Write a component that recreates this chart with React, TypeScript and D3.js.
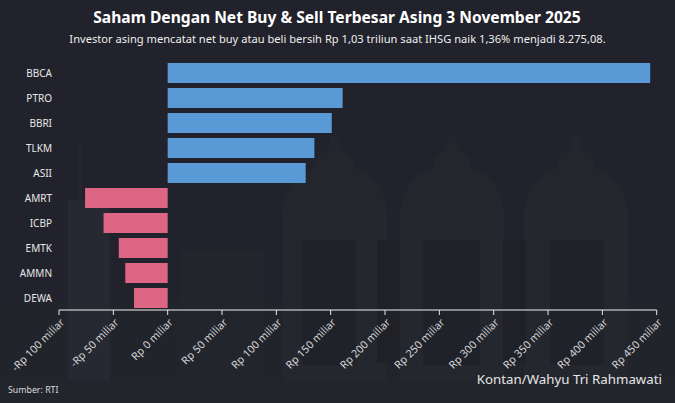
import { useEffect, useRef } from 'react';
import * as d3 from 'd3';

const WIDTH = 675;
const HEIGHT = 403;

const categories = ['BBCA', 'PTRO', 'BBRI', 'TLKM', 'ASII', 'AMRT', 'ICBP', 'EMTK', 'AMMN', 'DEWA'];
const values = [444, 161, 151, 135, 127, -76, -59, -45, -39, -31];
const tickValues = [-100, -50, 0, 50, 100, 150, 200, 250, 300, 350, 400, 450];

const domeCenters = [335, 452, 576];
const windowBlocks = [
  [302, 240, 54, 125],
  [423, 240, 57, 125],
  [550, 240, 54, 125],
];
const darkPillars = [
  [377, 240, 23, 123],
  [503, 240, 23, 123],
];

const FONT = '"Noto Sans", "Open Sans", sans-serif';

export default function App() {
  const svgRef = useRef<SVGSVGElement>(null);

  useEffect(() => {
    if (!svgRef.current) return;
    const svg = d3.select(svgRef.current);
    svg.selectAll('*').remove();

    svg.append('rect').attr('width', WIDTH).attr('height', HEIGHT).attr('fill', '#21222b');

    // faint building silhouette behind the chart
    const bg = svg.append('g');
    bg.append('rect').attr('x', 0).attr('y', 300).attr('width', WIDTH).attr('height', 103).attr('fill', '#22242b');
    bg.append('rect').attr('x', 78).attr('y', 145).attr('width', 4).attr('height', 60).attr('fill', '#25272f');
    bg.append('rect').attr('x', 68).attr('y', 200).attr('width', 42).attr('height', 203).attr('fill', '#262931');
    bg.append('rect').attr('x', 180).attr('y', 250).attr('width', 85).attr('height', 153).attr('fill', '#23252c');
    domeCenters.forEach((cx) => {
      bg.append('path')
        .attr('d', `M${cx - 52},210 Q${cx - 48},178 ${cx - 20},168 L${cx - 16},155 L${cx - 7},150 L${cx - 4},137 L${cx + 4},137 L${cx + 7},150 L${cx + 16},155 L${cx + 20},168 Q${cx + 48},178 ${cx + 52},210 Z`)
        .attr('fill', '#24262e');
      bg.append('rect').attr('x', cx - 52).attr('y', 210).attr('width', 104).attr('height', 193).attr('fill', '#25272f');
    });
    windowBlocks.forEach(([x, y, w, h]) => {
      bg.append('rect').attr('x', x).attr('y', y).attr('width', w).attr('height', h).attr('fill', '#202229');
    });
    darkPillars.forEach(([x, y, w, h]) => {
      bg.append('rect').attr('x', x).attr('y', y).attr('width', w).attr('height', h).attr('fill', '#1f2127');
    });
    bg.append('rect').attr('x', 0).attr('y', 380).attr('width', WIDTH).attr('height', 23).attr('fill', '#23252c');

    const x = d3.scaleLinear().domain([-100, 450]).range([59, 656.7]);
    const y = d3.scaleBand<string>().domain(categories).range([60.5, 310.5]).paddingInner(0.2).paddingOuter(0.1);

    svg.append('g')
      .selectAll('rect')
      .data(values)
      .join('rect')
      .attr('x', (d) => x(Math.min(0, d)))
      .attr('y', (_, i) => y(categories[i]) as number)
      .attr('width', (d) => Math.abs(x(d) - x(0)))
      .attr('height', y.bandwidth())
      .attr('fill', (d) => (d > 0 ? '#5899d6' : '#de6685'));

    svg.append('g')
      .selectAll('text')
      .data(categories)
      .join('text')
      .attr('x', 52)
      .attr('y', (d) => (y(d) as number) + y.bandwidth() / 2 + 4)
      .attr('text-anchor', 'end')
      .attr('fill', '#e8e8ea')
      .style('font-family', FONT)
      .style('font-size', '10px')
      .text((d) => d);

    const axis = svg.append('g').attr('transform', 'translate(0,310)');
    axis.append('line').attr('x1', x(-100)).attr('x2', x(450)).attr('stroke', '#f2f2f2').attr('stroke-width', 1.2);
    const ticks = axis.selectAll('g').data(tickValues).join('g').attr('transform', (d) => `translate(${x(d)},0)`);
    ticks.append('line').attr('y2', 5).attr('stroke', '#e8e8e8').attr('stroke-width', 1);
    ticks
      .append('text')
      .attr('transform', 'translate(4,11) rotate(-45)')
      .attr('text-anchor', 'end')
      .attr('dominant-baseline', 'middle')
      .attr('fill', '#d4d4d7')
      .style('font-family', FONT)
      .style('font-size', '10.7px')
      .text((d) => `${d < 0 ? '-' : ''}Rp ${Math.abs(d)} miliar`);

    svg.append('text')
      .attr('x', 337)
      .attr('y', 22.5)
      .attr('text-anchor', 'middle')
      .attr('fill', '#ffffff')
      .style('font-family', FONT)
      .style('font-weight', '700')
      .style('font-size', '15.6px')
      .text('Saham Dengan Net Buy & Sell Terbesar Asing 3 November 2025');

    svg.append('text')
      .attr('x', 337.5)
      .attr('y', 43)
      .attr('text-anchor', 'middle')
      .attr('fill', '#eeeeee')
      .style('font-family', FONT)
      .style('font-size', '11.13px')
      .text('Investor asing mencatat net buy atau beli bersih Rp 1,03 triliun saat IHSG naik 1,36% menjadi 8.275,08.');

    svg.append('text')
      .attr('x', 8)
      .attr('y', 393)
      .attr('fill', '#dddddd')
      .style('font-family', FONT)
      .style('font-size', '8.8px')
      .text('Sumber: RTI');

    svg.append('text')
      .attr('x', 662)
      .attr('y', 383.5)
      .attr('text-anchor', 'end')
      .attr('fill', '#e6e6e6')
      .style('font-family', FONT)
      .style('font-size', '13.3px')
      .text('Kontan/Wahyu Tri Rahmawati');
  }, []);

  return (
    <svg
      ref={svgRef}
      width={WIDTH}
      height={HEIGHT}
      viewBox={`0 0 ${WIDTH} ${HEIGHT}`}
      style={{ position: 'fixed', left: 0, top: 0, display: 'block' }}
    />
  );
}
